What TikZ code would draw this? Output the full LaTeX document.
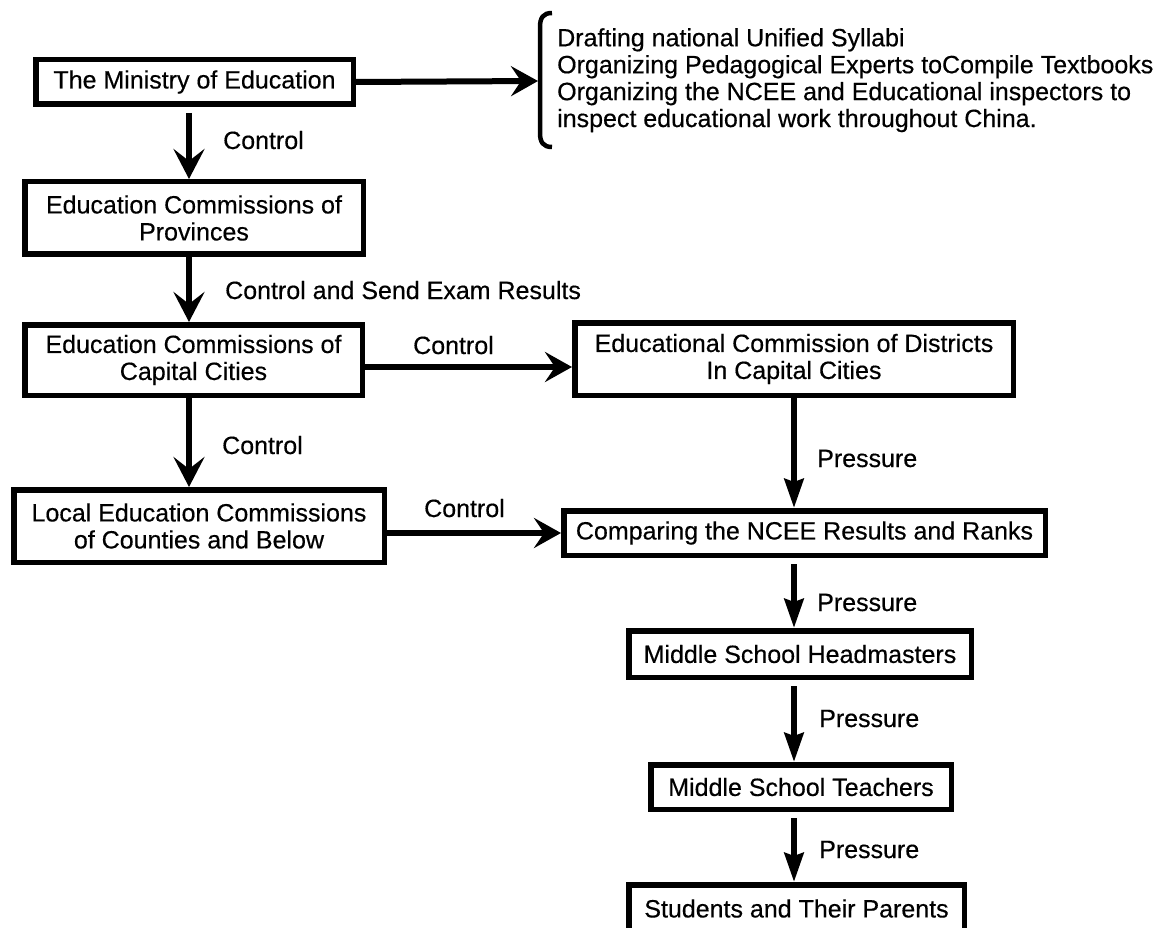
\documentclass[tikz,border=0pt]{standalone}
\usepackage{fontspec}
\setmainfont{Liberation Sans}[FakeBold=0.4]
\usetikzlibrary{arrows.meta}
\begin{document}
\begin{tikzpicture}[x=1pt,y=-1pt,
  txt/.style={font=\fontsize{25}{27}\selectfont},
  box/.style={txt, draw, line width=5.5pt, align=center, inner sep=0pt},
  lbl/.style={txt, anchor=base west, inner sep=0pt},
  larrow/.style={line width=6pt, -{Stealth[length=30pt,width=31pt,inset=12pt]}},
  harrow/.style={line width=6pt, -{Stealth[length=27pt,width=30pt,inset=10pt]}},
  rarrow/.style={line width=6pt, -{Stealth[length=29pt,width=19pt,inset=3pt]}},
  gap/.style={shorten <=6pt}
]
\useasboundingbox (0,0) rectangle (1160,928);
\clip (0,0) rectangle (1160,928);

% boxes
\node[box, minimum width=317.5pt, minimum height=44.5pt] (b1) at (194.5,82) {The Ministry of Education};
\node[box, minimum width=338.5pt, minimum height=72.5pt] (b2) at (194,218) {Education Commissions of\\Provinces};
\node[box, minimum width=337.5pt, minimum height=70.5pt] (b3) at (193.5,360) {Education Commissions of\\Capital Cities};
\node[box, minimum width=438.5pt, minimum height=72.5pt] (b4) at (794,359) {Educational Commission of Districts\\In Capital Cities};
\node[box, minimum width=370.5pt, minimum height=72.5pt] (b5) at (199,526) {Local Education Commissions\\of Counties and Below};
\node[box, minimum width=481.5pt, minimum height=44.5pt] (b6) at (804.5,533) {Comparing the NCEE Results and Ranks};
\node[box, minimum width=342.5pt, minimum height=46.5pt] (b7) at (800,654) {Middle School Headmasters};
\node[box, minimum width=300.5pt, minimum height=44.5pt] (b8) at (801,787) {Middle School Teachers};
\node[box, minimum width=335.5pt, minimum height=47.5pt] (b9) at (796.5,908.5) {Students and Their Parents};

% brace and its text
\coordinate (br) at (538,81);
\draw[line width=4.5pt] (552,13) .. controls (543,13) and (540,18) .. (540,27) -- (540,133) .. controls (540,142) and (543,147) .. (552,147);
\node[txt, anchor=north west, align=left, inner sep=0pt, font=\fontsize{25}{26.9}\selectfont] (duties) at (557,28)
  {Drafting national Unified Syllabi\\Organizing Pedagogical Experts toCompile Textbooks\\Organizing the NCEE and Educational inspectors to\\inspect educational work throughout China.};

% column coordinates
\coordinate (lc) at (189,0);
\coordinate (rc) at (794,0);
\coordinate (h34) at (0,367);

% connectors
\draw[harrow] (b1.east) -- (br);
\draw[larrow, gap] (b1.south -| lc) -- (b2.north -| lc);
\draw[larrow] (b2.south -| lc) -- (b3.north -| lc);
\draw[larrow] (b3.south -| lc) -- (b5.north -| lc);
\draw[harrow] (b3.east |- h34) -- (b4.west |- h34);
\draw[harrow] (b5.east |- b6.west) -- (b6.west);
\draw[rarrow] (b4.south -| rc) -- (b6.north -| rc);
\draw[rarrow, gap] (b6.south -| rc) -- (b7.north -| rc);
\draw[rarrow, gap] (b7.south -| rc) -- (b8.north -| rc);
\draw[rarrow, gap] (b8.south -| rc) -- (b9.north -| rc);

% labels
\node[lbl] (l1) at (223,149) {Control};
\node[lbl] (l2) at (225,299) {Control and Send Exam Results};
\node[lbl] (l3) at (413,354) {Control};
\node[lbl] (l4) at (222,454) {Control};
\node[lbl] (l5) at (424,517) {Control};
\node[lbl] (l6) at (817,467) {Pressure};
\node[lbl] (l7) at (817,611) {Pressure};
\node[lbl] (l8) at (819,727) {Pressure};
\node[lbl] (l9) at (819,858) {Pressure};
\end{tikzpicture}
\end{document}
